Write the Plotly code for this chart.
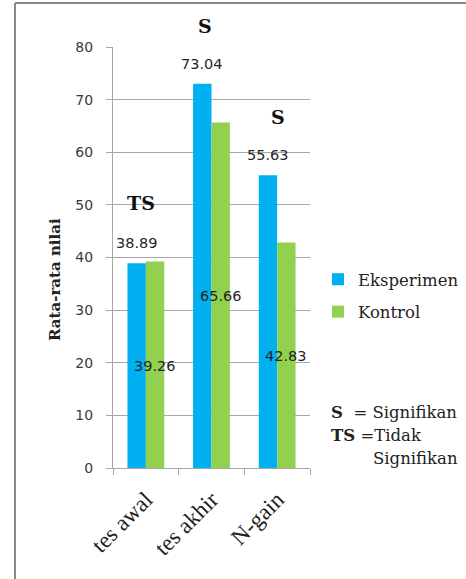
import plotly.graph_objects as go

# Mean scores per test stage
categories = ["tes awal", "tes akhir", "N-gain"]
eksperimen = [38.89, 73.04, 55.63]
kontrol = [39.26, 65.66, 42.83]
signifikansi = ["TS", "S", "S"]

W, H = 466, 579
BLUE = "#00B0F0"
GREEN = "#92D050"
SERIF = "Liberation Serif"
WIDE_SERIF = "DejaVu Serif"
SANS = "DejaVu Sans"
GRID = "#a6a6a6"

# plot area in pixels
PX_L, PX_R, PX_T, PX_B = 113, 310, 47, 468

fig = go.Figure()
fig.add_trace(go.Bar(name="Eksperimen", x=categories, y=eksperimen,
                     marker=dict(color=BLUE, line=dict(width=0)),
                     legendgroup="e"))
fig.add_trace(go.Bar(name="Kontrol", x=categories, y=kontrol,
                     marker=dict(color=GREEN, line=dict(width=0)),
                     legendgroup="k"))

half_bar = (PX_R - PX_L) / len(categories) * (1 - 0.44) / 4

annotations = []
# value labels: Eksperimen above its bar, Kontrol in the middle of its bar
for c, e, k in zip(categories, eksperimen, kontrol):
    annotations.append(dict(x=c, y=e, xref="x", yref="y", text=f"{e:.2f}",
                            showarrow=False, xshift=-half_bar, yshift=20,
                            font=dict(family=SANS, size=14.5, color="#262626")))
    annotations.append(dict(x=c, y=k / 2, xref="x", yref="y", text=f"{k:.2f}",
                            showarrow=False, xshift=half_bar, yshift=-1,
                            font=dict(family=SANS, size=14.5, color="#262626")))

# significance markers above each group
sig_dx = {"tes awal": -5, "tes akhir": -7, "N-gain": 1}
for c, e, k, s in zip(categories, eksperimen, kontrol, signifikansi):
    annotations.append(dict(x=c, y=max(e, k), xref="x", yref="y",
                            text=f"<b>{s}</b>", showarrow=False,
                            xshift=sig_dx[c], yshift=58,
                            font=dict(family=WIDE_SERIF, size=19, color="#111111")))

# y-axis title
annotations.append(dict(x=44 / W, y=1 - 280 / H, xref="paper", yref="paper",
                        text="<b>Rata-rata nilai</b>", textangle=-90,
                        showarrow=False,
                        font=dict(family=WIDE_SERIF, size=15, color="#222222")))

# key for the significance markers
key_font = dict(family=WIDE_SERIF, size=16.5, color="#222222")
annotations += [
    dict(x=329 / W, y=1 - 424 / H, xref="paper", yref="paper", xanchor="left",
         text="<b>S</b>  = Signifikan", showarrow=False, font=key_font),
    dict(x=329 / W, y=1 - 447 / H, xref="paper", yref="paper", xanchor="left",
         text="<b>TS</b> =Tidak", showarrow=False, font=key_font),
    dict(x=371 / W, y=1 - 470 / H, xref="paper", yref="paper", xanchor="left",
         text="Signifikan", showarrow=False, font=key_font),
]

fig.update_layout(
    width=W, height=H,
    margin=dict(l=0, r=0, t=0, b=0, autoexpand=False),
    paper_bgcolor="white", plot_bgcolor="white",
    barmode="group", bargap=0.44, bargroupgap=0,
    showlegend=True,
    legend=dict(x=318 / W, y=1 - 262 / H, xanchor="left", yanchor="top",
                font=dict(family=WIDE_SERIF, size=16.5, color="#222222"),
                tracegroupgap=8, bgcolor="rgba(0,0,0,0)"),
    annotations=annotations,
    xaxis=dict(domain=[PX_L / W, PX_R / W], automargin=False,
               showline=True, linecolor=GRID, linewidth=1,
               ticks="outside", tickson="boundaries", ticklen=6,
               tickcolor=GRID, tickangle=-45, ticklabelstandoff=8,
               tickfont=dict(family=SERIF, size=23, color="#222222"),
               showgrid=False),
    yaxis=dict(domain=[1 - PX_B / H, 1 - PX_T / H], automargin=False,
               range=[0, 80], dtick=10,
               showline=True, linecolor=GRID, linewidth=1,
               ticks="outside", ticklen=6, tickcolor=GRID,
               ticklabelstandoff=10,
               tickfont=dict(family=SANS, size=14, color="#3a3a3a"),
               showgrid=True, gridcolor=GRID, gridwidth=1,
               zeroline=False),
    shapes=[
        dict(type="line", xref="paper", yref="paper",
             x0=15 / W, x1=1, y0=1 - 3 / H, y1=1 - 3 / H,
             line=dict(color="#8a8a8a", width=2)),
        dict(type="line", xref="paper", yref="paper",
             x0=15 / W, x1=15 / W, y0=0, y1=1 - 3 / H,
             line=dict(color="#8a8a8a", width=2)),
    ],
)

fig.write_html("out.html")
